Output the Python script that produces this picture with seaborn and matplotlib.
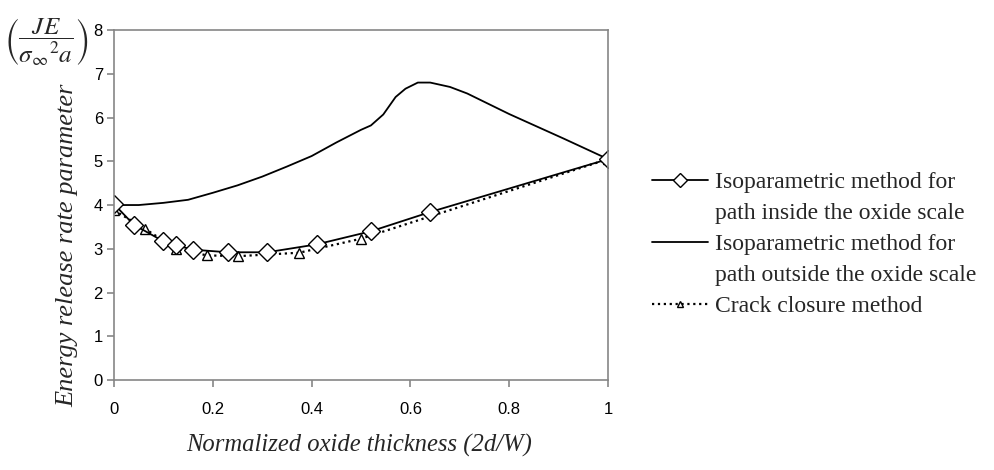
import seaborn as sns
import matplotlib.pyplot as plt
from matplotlib.lines import Line2D

# data
x_inside = [0, 0.04, 0.1, 0.125, 0.16, 0.23, 0.31, 0.41, 0.52, 0.64, 1.0]
y_inside = [4.02, 3.55, 3.17, 3.08, 2.98, 2.92, 2.92, 3.10, 3.40, 3.84, 5.05]

x_outside = [0, 0.05, 0.1, 0.15, 0.2, 0.25, 0.3, 0.35, 0.4, 0.45, 0.5, 0.52,
             0.545, 0.57, 0.59, 0.615, 0.64, 0.68, 0.715, 0.8, 0.91, 1.0]
y_outside = [4.0, 4.0, 4.05, 4.12, 4.28, 4.45, 4.65, 4.88, 5.12, 5.43, 5.72, 5.82,
             6.07, 6.47, 6.66, 6.8, 6.8, 6.7, 6.55, 6.08, 5.52, 5.05]

x_crack = [0, 0.0625, 0.125, 0.1875, 0.25, 0.375, 0.5, 1.0]
y_crack = [3.88, 3.46, 3.0, 2.85, 2.83, 2.91, 3.23, 5.05]

legend_labels = ["Isoparametric method for", "path inside the oxide scale",
                 "Isoparametric method for", "path outside the oxide scale",
                 "Crack closure method"]

sns.set_style("white")
plt.rcParams["font.family"] = ["Liberation Sans", "DejaVu Sans"]
plt.rcParams["mathtext.fontset"] = "stix"

fig = plt.figure(figsize=(9.95, 4.7), dpi=100)
ax = fig.add_axes([0.1146, 0.1915, 0.4965, 0.7445])

sns.lineplot(x=x_outside, y=y_outside, ax=ax, color="black", lw=1.3,
             sort=False, estimator=None)
sns.lineplot(x=x_crack, y=y_crack, ax=ax, color="black", lw=1.6, ls=":",
             marker="^", markersize=7, markerfacecolor="white",
             markeredgecolor="black", markeredgewidth=1.0,
             sort=False, estimator=None)
sns.lineplot(x=x_inside, y=y_inside, ax=ax, color="black", lw=1.3,
             marker="D", markersize=9, markerfacecolor="white",
             markeredgecolor="black", markeredgewidth=1.0,
             sort=False, estimator=None)

ax.set_xlim(0, 1)
ax.set_ylim(0, 8)
ax.set_xticks([0, 0.2, 0.4, 0.6, 0.8, 1])
ax.set_xticklabels(["0", "0.2", "0.4", "0.6", "0.8", "1"])
ax.set_yticks(range(0, 9))
for s in ax.spines.values():
    s.set_color("#868686")
    s.set_linewidth(1.2)
ax.tick_params(axis="both", which="major", direction="out", length=5,
               width=1.2, color="#868686", labelsize=12, labelcolor="black",
               bottom=True, left=True)
ax.tick_params(axis="x", pad=11)
ax.tick_params(axis="y", pad=3)

ax.set_xlabel("")
ax.set_ylabel("")
fig.text(0.361, 0.053, "Normalized oxide thickness (2d/W)", ha="center",
         va="center", fontsize=17.7, style="italic", family="Liberation Serif")
fig.text(0.068, 0.479, "Energy release rate parameter", ha="center",
         va="center", rotation=90, fontsize=19, style="italic",
         family="Liberation Serif")
fig.text(0.047, 0.91, r"$\left(\dfrac{JE}{\sigma_{\infty}{}^{2}a}\right)$",
         ha="center", va="center", fontsize=18)

# legend: handles sit beside the first line of each label
blank = Line2D([], [], color="none")
handles = [
    Line2D([], [], color="black", lw=1.3, marker="D", markersize=7,
           markerfacecolor="white", markeredgecolor="black"),
    blank,
    Line2D([], [], color="black", lw=1.3),
    blank,
    Line2D([], [], color="black", lw=1.6, ls=":", marker="^", markersize=5,
           markerfacecolor="white", markeredgecolor="black"),
]
fig.legend(handles, legend_labels, loc="upper left",
           bbox_to_anchor=(0.655, 0.635), frameon=False,
           prop={"family": "Liberation Serif", "size": 17},
           handlelength=2.4, handletextpad=0.3, labelspacing=0.4,
           borderpad=0, borderaxespad=0)

fig.savefig("out.png", dpi=100)
